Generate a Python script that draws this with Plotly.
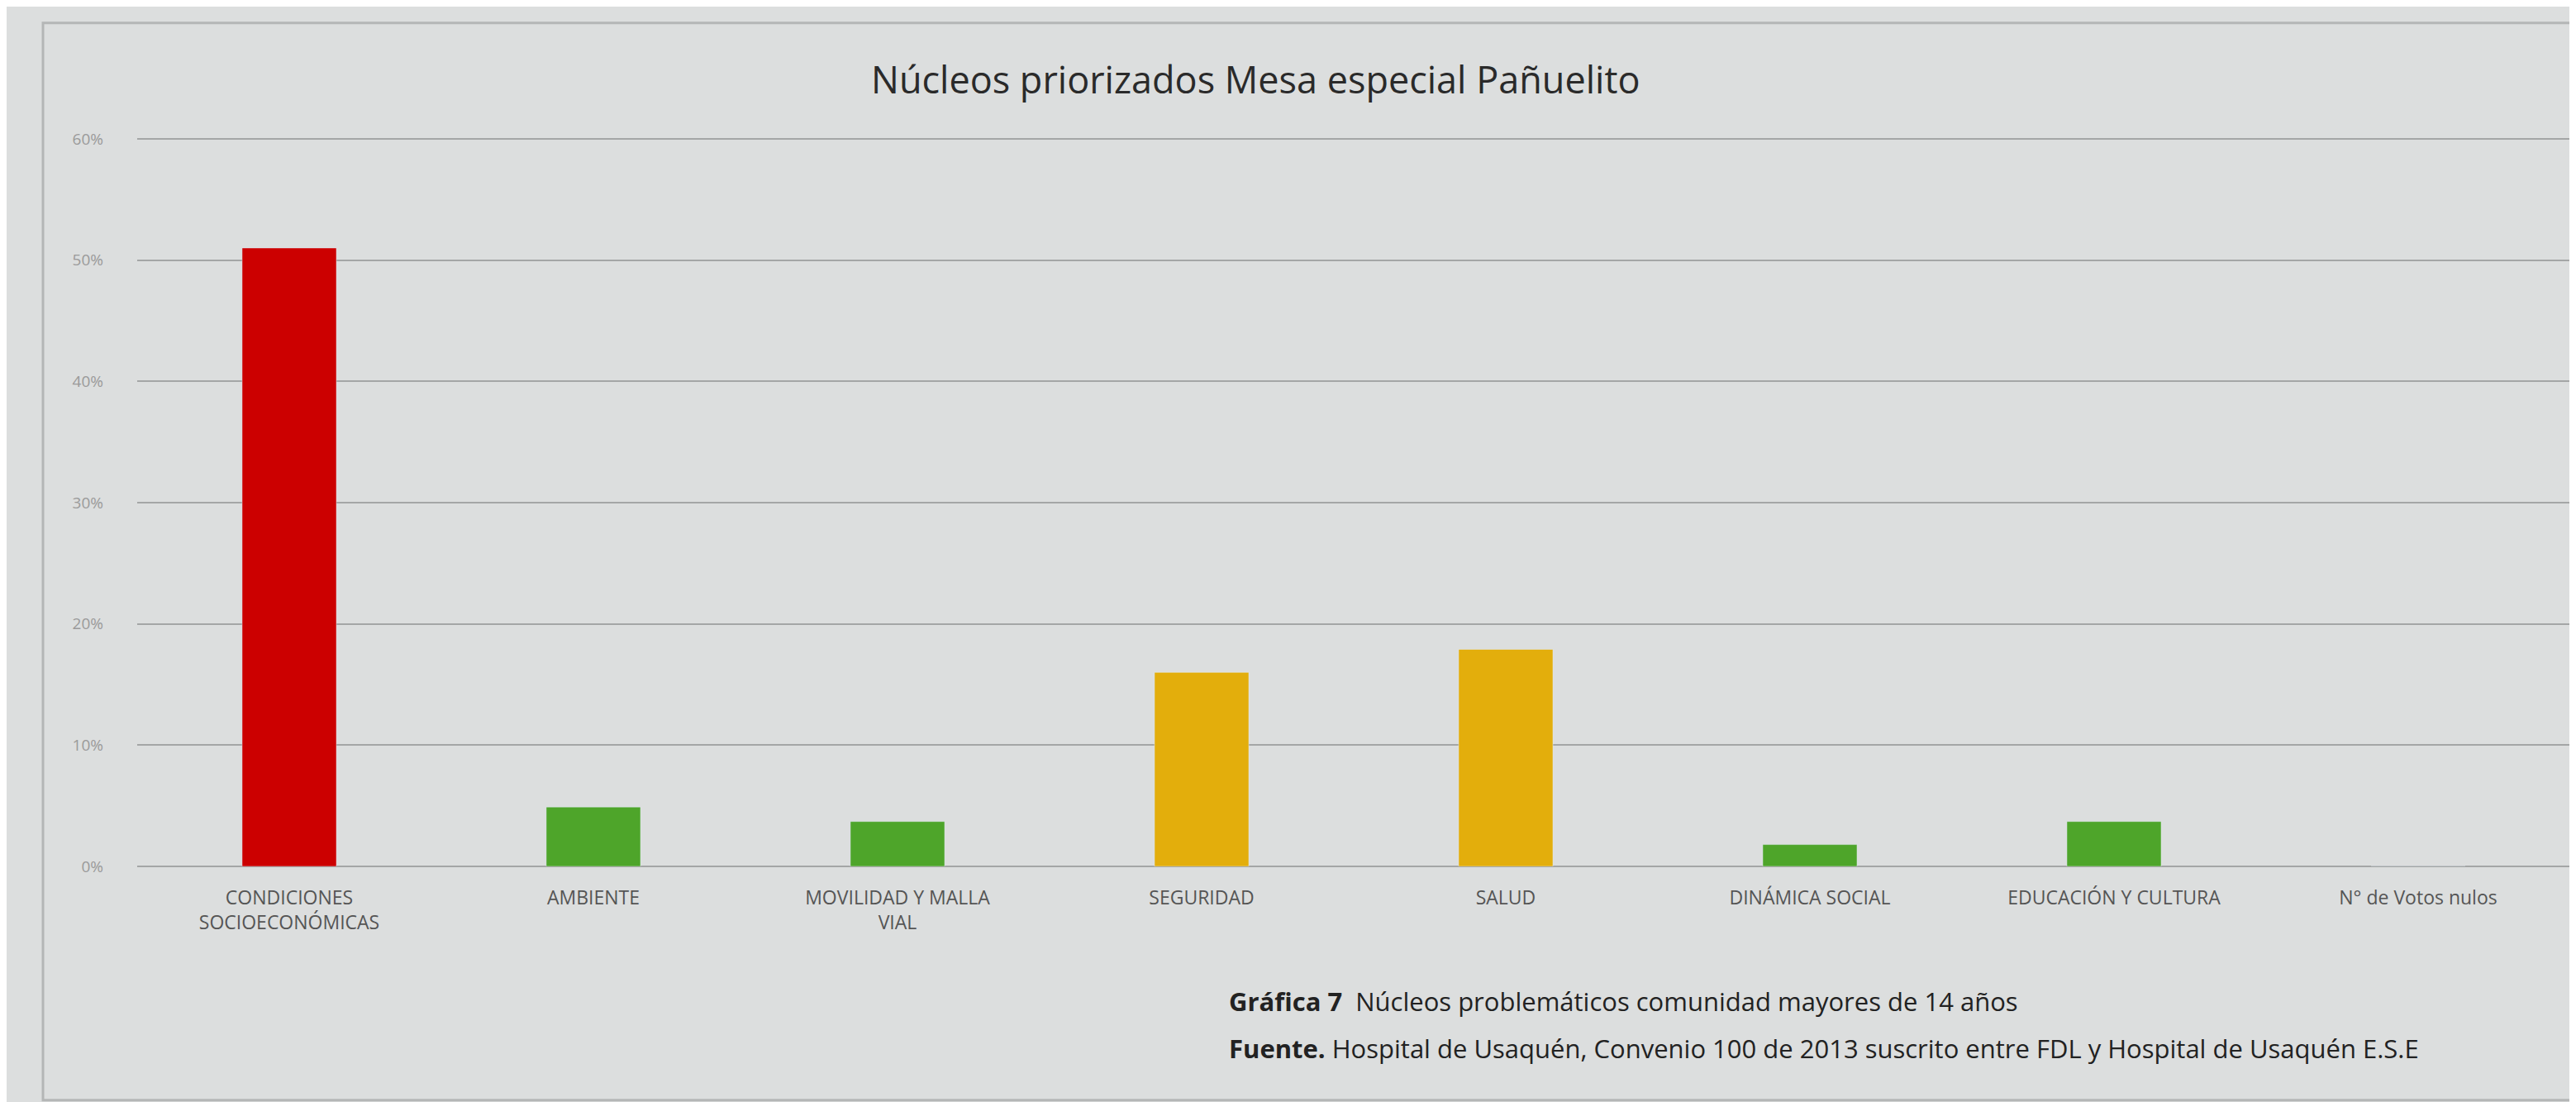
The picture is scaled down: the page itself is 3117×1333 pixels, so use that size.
import plotly.graph_objects as go

categories = ["CONDICIONES<br>SOCIOECONÓMICAS", "AMBIENTE", "MOVILIDAD Y MALLA<br>VIAL", "SEGURIDAD",
              "SALUD", "DINÁMICA SOCIAL", "EDUCACIÓN Y CULTURA", "N° de Votos nulos"]
values = [51, 4.9, 3.7, 16, 17.9, 1.8, 3.7, 0]
colors = ["#cc0000", "#4ea52a", "#4ea52a", "#e3ae0c", "#e3ae0c", "#4ea52a", "#4ea52a", "#4ea52a"]
y_ticks = [0, 10, 20, 30, 40, 50, 60]
y_tick_labels = ["0%", "10%", "20%", "30%", "40%", "50%", "60%"]

W, H = 3117, 1333
L, R, T, B = 158, 15, 159, 293
pw, ph = W - L - R, H - T - B

def px(x):
    return (x - L) / pw

def py(y):
    return (H - B - y) / ph

fig = go.Figure(go.Bar(x=categories, y=values, marker_color=colors, width=0.31))

fig.update_layout(
    width=W, height=H,
    margin=dict(l=L, r=R, t=T - 2, b=B),
    paper_bgcolor="#dcdede",
    plot_bgcolor="#dcdede",
    showlegend=False,
    font=dict(family="Open Sans", color="#444"),
    xaxis=dict(showgrid=False, showline=False, zeroline=False,
               tickfont=dict(size=23, color="#555"), ticklabelstandoff=22),
    yaxis=dict(range=[0, 60.2], tickvals=y_ticks, ticktext=y_tick_labels,
               showgrid=True, gridcolor="#a4a6a6", gridwidth=2,
               zeroline=True, zerolinecolor="#a4a6a6", zerolinewidth=2,
               tickfont=dict(size=19, color="#9a9a9a"), ticklabelstandoff=40),
    shapes=[dict(type="rect", xref="paper", yref="paper",
                 x0=px(44), x1=px(3130), y0=py(1322), y1=py(22),
                 line=dict(color="#b4b6b6", width=3), layer="below")],
    annotations=[
        dict(text="Núcleos priorizados Mesa especial Pañuelito", xref="paper", yref="paper",
             x=px(1511), y=py(90), yanchor="middle", showarrow=False,
             font=dict(size=45, color="#2a2a2a")),
        dict(text="<b>Gráfica 7</b>  Núcleos problemáticos comunidad mayores de 14 años",
             xref="paper", yref="paper", x=px(1477), y=py(1203), xanchor="left", yanchor="middle",
             showarrow=False, font=dict(size=31, color="#222")),
        dict(text="<b>Fuente.</b> Hospital de Usaquén, Convenio 100 de 2013 suscrito entre FDL y Hospital de Usaquén E.S.E",
             xref="paper", yref="paper", x=px(1477), y=py(1260), xanchor="left", yanchor="middle",
             showarrow=False, font=dict(size=31, color="#222")),
    ],
)

fig.write_html("out.html")
